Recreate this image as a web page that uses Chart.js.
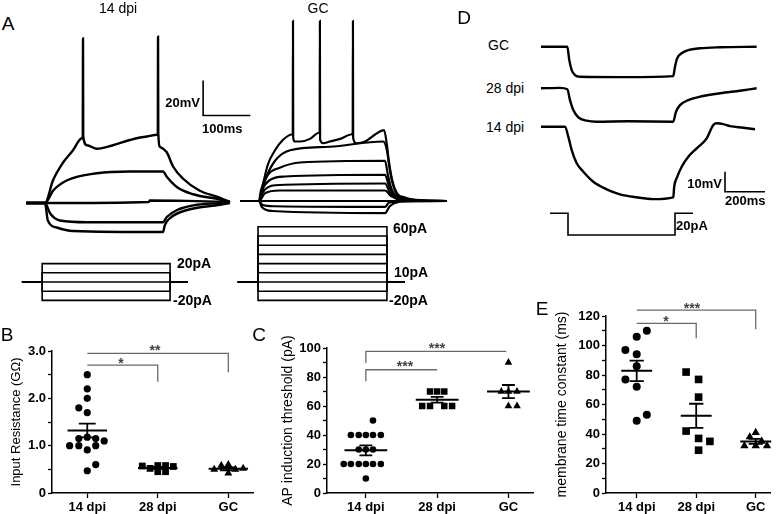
<!DOCTYPE html>
<html>
<head>
<meta charset="utf-8">
<script src="https://cdn.jsdelivr.net/npm/chart.js@4.4.1/dist/chart.umd.min.js"></script>
<style>
  html, body { margin: 0; padding: 0; background: #fff; }
  #fig { position: relative; width: 784px; height: 514px; overflow: hidden;
         font-family: "Liberation Sans", Arial, sans-serif; color: #000; }
  .box { position: absolute; }
  .lbl { position: absolute; white-space: nowrap; line-height: 1; z-index: 2; }
</style>
</head>
<body>
<div id="fig"></div>
<script>
// ---------- A: current clamp responses (ms from step onset, mV from rest) ----------
var a14_m20 = [[-40,0],[0,0],[6,-10],[25,-14],[59,-16],[250,-16.6],[254,-12.6],[265,-8.6],[301,-4],[371,-1],[392,0]];
var a14_m10 = [[-40,0],[0,0],[11,-6],[32,-10],[89,-11],[250,-11],[258,-8],[280,-4],[322,-1],[386,0]];
var a14_0   = [[-40,0],[0,0],[220,0.6],[222,1.4],[300,1.2],[392,0.6]];
var a14_p10 = [[-40,0],[0,0],[17,7],[47,13],[110,17],[180,18],[250,18],[258,15],[280,9],[314,5],[371,2],[392,0.5]];
var a14_p20 = [[-40,0],[0,0],[17,13],[38,23],[59,30],[78,37],[80,38],[80.5,94],[81,38],[89,33],[110,31],[144,33],[180,36],
               [216,38],[237,39],[239,40],[239.5,95],[240,40],[244,32],[258,29],[271,21],[292,14],[328,7],[371,3],[392,0.5]];

var gc_m20 = [[-40,0],[0,0],[6,-3.4],[28,-5.7],[267,-6.9],[277,-3],[294,-0.6],[330,0],[398,0]];
var gc_m10 = [[-40,0],[0,0],[8,-2.3],[34,-3],[267,-3.4],[275,-1],[300,-0.2],[398,0]];
var gc_0   = [[-40,0],[398,0]];
var gc_p10 = [[-40,0],[0,0],[13,4.5],[44,6],[267,6],[279,3],[300,0.8],[398,0]];
var gc_p20 = [[-40,0],[0,0],[8,5],[34,9],[267,10],[277,5],[292,2],[320,0.3],[398,0]];
var gc_p30 = [[-40,0],[0,0],[6,6],[23,12],[55,14],[267,15],[275,9],[286,3],[310,0.5],[398,0]];
var gc_p40 = [[-40,0],[0,0],[4,6],[19,15],[44,19],[87,22],[267,23],[273,15],[282,6],[299,2],[341,0.5],[398,0]];
var gc_p50 = [[-40,0],[0,0],[13,12],[34,23],[66,29],[150,31],[263,34],[271,29],[277,18],[288,6],[309,2],[362,0],[398,0]];
var gc_p60 = [[-40,0],[0,0],[2,1],[8,9],[19,21],[34,29],[51,35],[70,38],[71.5,38.5],[72,103],[72.5,36],[76,34],[87,34],
              [108,35.5],[127,39],[128.5,39.5],[129,103],[129.5,35],[136,33],[150,34],[172,35.5],[195,38],[198.5,39],
              [199,103],[199.5,36],[206,33],[225,34],[246,38],[265,40.5],[271,32],[275,23],[282,12],[292,4.5],[309,1],[362,0],[398,0]];

// step protocols: start, on, off, end (ms) and current levels (pA)
var a14ProtoTimes = [-49, -6, 265, 303];
var a14ProtoSteps = [-20, -10, 0, 10, 20];
var gcProtoTimes = [-45, -2, 271, 309];
var gcProtoSteps = [-20, -10, 0, 10, 20, 30, 40, 50, 60];
var aScaleBar = { mV: 20, ms: 100 };

// ---------- D: hyperpolarising step responses ----------
var d_gc = [[-135,0],[-3.5,0],[6.5,-6.7],[18.5,-11.7],[35,-14.2],[60,-15],[300,-15.2],[526,-14.7],[535,-10],[546,-5.8],
            [568,-3.3],[601,-1.7],[660,-0.8],[760,-0.3],[943,0]];
var d_28 = [[-135,0],[-40,0.2],[-3.5,-0.5],[10,-5.9],[26.5,-10.9],[51.5,-14.5],[93.5,-16.2],[143.5,-16.7],[300,-16.5],
            [526,-16.7],[540,-11.7],[560,-8.4],[601,-5.9],[660,-4.2],[760,-2.5],[860,-1.2],[943,0]];
var d_14 = [[-135,0],[-15,0],[1.5,-5],[18.5,-11.7],[43.5,-18.3],[76.5,-22.5],[126.5,-27.5],[193.5,-31.3],[260,-33.8],
            [343.5,-35.3],[426.5,-36.2],[526.5,-35.3],[531,-30],[546.5,-25],[568.5,-20],[601.5,-15],[643.5,-10.8],
            [693.5,-5.8],[726.5,0.8],[743.5,1.7],[776.5,1.3],[810,0.3],[876.5,-0.5],[935,-1.3]];
var dProtoTimes = [-90, 0, 535, 625];
var dProtoSteps = [-20];
var dScaleBar = { mV: 10, ms: 200 };

// ---------- B, C, E: group data ----------
var groups = ['14 dpi', '28 dpi', 'GC'];

var rin14 = [2.5, 2.2, 2.0, 1.8, 1.7, 1.18, 1.15, 1.15, 1.1, 1.0, 1.0, 1.0, 0.91, 0.6, 0.47];
var rin28 = [0.57, 0.52, 0.58, 0.45, 0.45, 0.58, 0.56];
var rinGC = [0.5, 0.58, 0.6, 0.42, 0.5, 0.52];
var rinMean = [1.32, 0.53, 0.51];
var rinSem = [0.145, 0.02, 0.03];
var rinSig = [[[0,2.7],[1,2.7],[1,2.35]], [[0,2.95],[2,2.95],[2,2.55]]];

var thr14 = [50, 40, 40, 40, 40, 40, 30, 30, 30, 20, 20, 20, 20, 20, 20, 10];
var thr28 = [70, 70, 70, 60, 60, 60, 60];
var thrGC = [90, 70, 70, 70, 60, 60];
var thrMean = [29.4, 64.3, 70];
var thrSem = [3.4, 2, 4.5];
var thrSig = [[[0,89.6],[0,97.7],[1.97,97.7]], [[0,77],[0,85],[1,85]]];

var tau14 = [110, 106, 97, 94, 86, 77, 72, 53, 49];
var tau28 = [82, 77, 65, 42, 37, 35, 29];
var tauGC = [41, 38, 35, 32, 32, 32];
var tauMean = [82.8, 52.3, 35];
var tauSem = [7, 8.2, 1.7];
var tauSig = [[[0,115],[1,115],[1,105]], [[0,124],[2,124],[2,111]]];

// horizontal scatter of the dots inside each group (category units)
var rinJit = [[0,0,0,-0.12,0,0,-0.12,0.12,0.24,-0.25,-0.12,0.12,0,0.12,0], [-0.22,-0.11,0,0,0.11,0.11,0.22], [-0.2,-0.1,0,0,0.1,0.21]];
var thrJit = [[0.1,-0.21,-0.1,0,0.1,0.21,-0.1,0,0.1,-0.31,-0.21,-0.1,0,0.1,0.21,0], [-0.1,0,0.1,-0.21,-0.1,0.1,0.21], [0,-0.1,0,0.12,0,0.12]];
var tauJit = [[0.17,0,-0.19,0,0,-0.19,0,0.17,0], [-0.17,0.04,0.04,-0.17,0.04,0.23,0.04], [0,-0.1,0.1,-0.19,0,0.19]];

// ---------- drawing ----------
Chart.defaults.font.family = '"Liberation Sans", Arial, sans-serif';
Chart.defaults.color = '#000';
var fig = document.getElementById('fig');

function addCanvas(box) {
  var d = document.createElement('div');
  d.className = 'box';
  d.style.left = box.left + 'px'; d.style.top = box.top + 'px';
  d.style.width = box.width + 'px'; d.style.height = box.height + 'px';
  var c = document.createElement('canvas');
  d.appendChild(c);
  fig.appendChild(d);
  return c;
}

function label(text, x, y, size, bold, align, color) {
  var d = document.createElement('div');
  d.className = 'lbl';
  d.textContent = text;
  d.style.left = x + 'px'; d.style.top = y + 'px';
  d.style.fontSize = size + 'px';
  d.style.fontWeight = bold ? 'bold' : 'normal';
  if (color) d.style.color = color;
  var tx = align === 'right' ? '-100%' : (align === 'left' ? '0' : '-50%');
  d.style.transform = 'translate(' + tx + ',-50%)';
  fig.appendChild(d);
}

function xy(pairs) { return pairs.map(function (p) { return { x: p[0], y: p[1] }; }); }

function stepTrace(times, level) {
  return [[times[0],0],[times[1],0],[times[1],level],[times[2],level],[times[2],0],[times[3],0]];
}

function line(pairs, axis, width, color) {
  return { data: xy(pairs), yAxisID: axis, borderColor: color || '#000', borderWidth: width,
           pointRadius: 0, fill: false, clip: false, cubicInterpolationMode: 'monotone' };
}

function scaleBar(bar, t0, v0, axis) {
  return { data: xy([[t0, v0 + bar.mV], [t0, v0], [t0 + bar.ms, v0]]), yAxisID: axis, borderColor: '#000',
           borderWidth: 1.6, pointRadius: 0, fill: false, clip: false, tension: 0 };
}

// box in page px, x0 = page x of t=0, axes: {id: {zero: page y of 0, ppu: px per unit}}
function traceChart(box, x0, xppu, axes, datasets) {
  var scales = { x: { type: 'linear', display: false,
                      min: (box.left - x0) / xppu, max: (box.left + box.width - x0) / xppu } };
  Object.keys(axes).forEach(function (id) {
    var a = axes[id];
    var max = (a.zero - box.top) / a.ppu;
    scales[id] = { type: 'linear', display: false, min: max - box.height / a.ppu, max: max };
  });
  new Chart(addCanvas(box), {
    type: 'line',
    data: { datasets: datasets },
    options: { responsive: true, maintainAspectRatio: false, animation: false, events: [],
               layout: { padding: 0 }, scales: scales,
               plugins: { legend: { display: false }, tooltip: { enabled: false } } }
  });
}

// A, 14 dpi
var a14Sets = [a14_m20, a14_m10, a14_0, a14_p10, a14_p20].map(function (tr) { return line(tr, 'v', 2.4); });
a14ProtoSteps.forEach(function (s) { a14Sets.push(line(stepTrace(a14ProtoTimes, s), 'i', 1.6)); });
a14Sets.push(scaleBar(aScaleBar, 335, 50, 'v'));
traceChart({ left: 21, top: 14, width: 232, height: 300 }, 45, 0.472,
           { v: { zero: 203, ppu: 1.75 }, i: { zero: 282, ppu: 0.92 } }, a14Sets);

// A, GC
var gcSets = [gc_m20, gc_m10, gc_0, gc_p10, gc_p20, gc_p30, gc_p40, gc_p50, gc_p60].map(function (tr) { return line(tr, 'v', 2.2); });
gcProtoSteps.forEach(function (s) { gcSets.push(line(stepTrace(gcProtoTimes, s), 'i', 1.6)); });
traceChart({ left: 234, top: 14, width: 220, height: 300 }, 259, 0.472,
           { v: { zero: 201, ppu: 1.75 }, i: { zero: 282, ppu: 0.92 } }, gcSets);

// D
var dSets = [line(d_gc, 'vGC', 2.4), line(d_28, 'v28', 2.4), line(d_14, 'v14', 2.4)];
dProtoSteps.forEach(function (s) { dSets.push(line(stepTrace(dProtoTimes, s), 'i', 1.6)); });
dSets.push(scaleBar(dScaleBar, 785, -32.5, 'v14'));
traceChart({ left: 535, top: 30, width: 245, height: 215 }, 568, 0.2,
           { vGC: { zero: 46.7, ppu: 2 }, v28: { zero: 88.3, ppu: 2 }, v14: { zero: 126.7, ppu: 2 },
             i: { zero: 213.3, ppu: 1.085 } }, dSets);

function nearMultiple(v, step) { return Math.abs(v / step - Math.round(v / step)) < 1e-6; }

function scatterPanel(o) {
  var sets = [];
  // mean and SEM
  var mean = [], sem = [];
  o.mean.forEach(function (m, g) {
    mean.push({ x: g - o.meanHalf, y: m }, { x: g + o.meanHalf, y: m }, { x: g, y: null });
    var lo = m - o.sem[g], hi = m + o.sem[g];
    sem.push({ x: g, y: lo }, { x: g, y: hi }, { x: g, y: null },
             { x: g - o.capHalf, y: hi }, { x: g + o.capHalf, y: hi }, { x: g, y: null },
             { x: g - o.capHalf, y: lo }, { x: g + o.capHalf, y: lo }, { x: g, y: null });
  });
  sets.push({ type: 'line', data: mean, borderColor: '#000', borderWidth: 2, pointRadius: 0, showLine: true, spanGaps: false, clip: false });
  sets.push({ type: 'line', data: sem, borderColor: '#000', borderWidth: 1.8, pointRadius: 0, showLine: true, spanGaps: false, clip: false });
  // significance brackets
  var br = [];
  o.sig.forEach(function (b) { xy(b).forEach(function (p) { br.push(p); }); br.push({ x: 0, y: null }); });
  sets.push({ type: 'line', data: br, borderColor: '#6a6a6a', borderWidth: 1.3, pointRadius: 0, showLine: true, spanGaps: false, clip: false });
  // dots
  o.series.forEach(function (vals, g) {
    sets.push({ type: 'scatter', data: vals.map(function (v, i) { return { x: g + o.jitter[g][i], y: v }; }),
                pointStyle: o.marks[g], pointRadius: o.radius[g], backgroundColor: '#000', borderColor: '#000', borderWidth: 0, clip: false });
  });

  new Chart(addCanvas(o.box), {
    type: 'scatter',
    data: { datasets: sets },
    options: {
      responsive: true, maintainAspectRatio: false, animation: false, events: [],
      layout: { padding: { left: 0, top: o.padTop, right: o.padRight, bottom: 0 } },
      plugins: { legend: { display: false }, tooltip: { enabled: false } },
      scales: {
        x: { type: 'linear', min: o.xMin, max: o.xMax,
             afterBuildTicks: function (s) { s.ticks = groups.map(function (_, i) { return { value: i }; }); },
             afterFit: function (s) { s.height = o.xAxisH; },
             ticks: { callback: function (v, i) { return groups[i]; }, font: { size: 13, weight: 'bold' },
                      padding: 2, maxRotation: 0, autoSkip: false },
             grid: { drawOnChartArea: false, tickLength: 5, color: '#000', tickWidth: 1.3 },
             border: { color: '#000', width: 1.5 } },
        y: { type: 'linear', min: o.yMin, max: o.yMax,
             afterFit: function (s) { s.width = o.yAxisW; },
             ticks: { stepSize: o.yStep, autoSkip: false, padding: 2, font: { size: 13, weight: 'bold' },
                      callback: function (v) { return nearMultiple(v, o.labelStep) ? o.fmt(v) : ''; } },
             title: { display: true, text: o.title, font: { size: o.titleSize }, padding: { top: o.titlePad, bottom: 0 } },
             grid: { drawOnChartArea: false, tickLength: 4, color: '#000', tickWidth: 1.3 },
             border: { color: '#000', width: 1.5 } }
      }
    }
  });
}

// B
scatterPanel({ box: { left: 0, top: 300, width: 262, height: 214 }, yAxisW: 52, padTop: 51, padRight: 9, xAxisH: 21,
  xMin: -0.5, xMax: 2.35, yMin: 0, yMax: 3, yStep: 0.5, labelStep: 1,
  fmt: function (v) { return v === 0 ? '0' : v.toFixed(1); },
  title: 'Input Resistance (G\u03A9)', titleSize: 13, titlePad: 9,
  series: [rin14, rin28, rinGC], jitter: rinJit, marks: ['circle', 'rect', 'triangle'], radius: [3.6, 4.8, 4.6],
  mean: rinMean, sem: rinSem, meanHalf: 0.28, capHalf: 0.12, sig: rinSig });

// C
scatterPanel({ box: { left: 262, top: 300, width: 276, height: 214 }, yAxisW: 65, padTop: 48, padRight: 1, xAxisH: 21,
  xMin: -0.545, xMax: 2.35, yMin: 0, yMax: 100, yStep: 10, labelStep: 20,
  fmt: function (v) { return String(v); },
  title: 'AP induction threshold (pA)', titleSize: 14, titlePad: 17.5,
  series: [thr14, thr28, thrGC], jitter: thrJit, marks: ['circle', 'rect', 'triangle'], radius: [3.3, 4.6, 4.4],
  mean: thrMean, sem: thrSem, meanHalf: 0.3, capHalf: 0.09, sig: thrSig });

// E
scatterPanel({ box: { left: 538, top: 300, width: 246, height: 214 }, yAxisW: 68, padTop: 16, padRight: 14, xAxisH: 21,
  xMin: -0.516, xMax: 2.24, yMin: 0, yMax: 120, yStep: 10, labelStep: 20,
  fmt: function (v) { return String(v); },
  title: 'membrane time constant (ms)', titleSize: 14, titlePad: 15.5,
  series: [tau14, tau28, tauGC], jitter: tauJit, marks: ['circle', 'rect', 'triangle'], radius: [4, 5.4, 4.8],
  mean: tauMean, sem: tauSem, meanHalf: 0.26, capHalf: 0.12, sig: tauSig });

// ---------- text ----------
label('A', 8, 23, 19);
label('14 dpi', 118, 8, 14);
label('GC', 318, 8, 14);
label('20mV', 200, 102, 13, true, 'right');
label('100ms', 202, 128, 13, true, 'left');
label('20pA', 177, 263, 14, true, 'left');
label('-20pA', 173, 300, 14, true, 'left');
label('60pA', 393, 228, 14, true, 'left');
label('10pA', 394, 272, 14, true, 'left');
label('-20pA', 389, 300, 14, true, 'left');

label('D', 464, 17, 19);
label('GC', 488, 45, 14, false, 'left');
label('28 dpi', 486, 88, 14, false, 'left');
label('14 dpi', 486, 127, 14, false, 'left');
label('10mV', 722, 183, 13, true, 'right');
label('200ms', 725, 200, 13, true, 'left');
label('20pA', 676, 225, 13, true, 'left');

label('B', 7, 334, 19);
label('C', 259, 334, 19);
label('E', 542, 308, 19);

label('*', 121, 363, 14, true, 'center', '#444');
label('**', 155, 350, 14, true, 'center', '#444');
label('***', 405, 366, 14, true, 'center', '#444');
label('***', 437, 348, 14, true, 'center', '#444');
label('*', 666, 321, 14, true, 'center', '#444');
label('***', 692, 308, 14, true, 'center', '#444');
</script>
</body>
</html>
